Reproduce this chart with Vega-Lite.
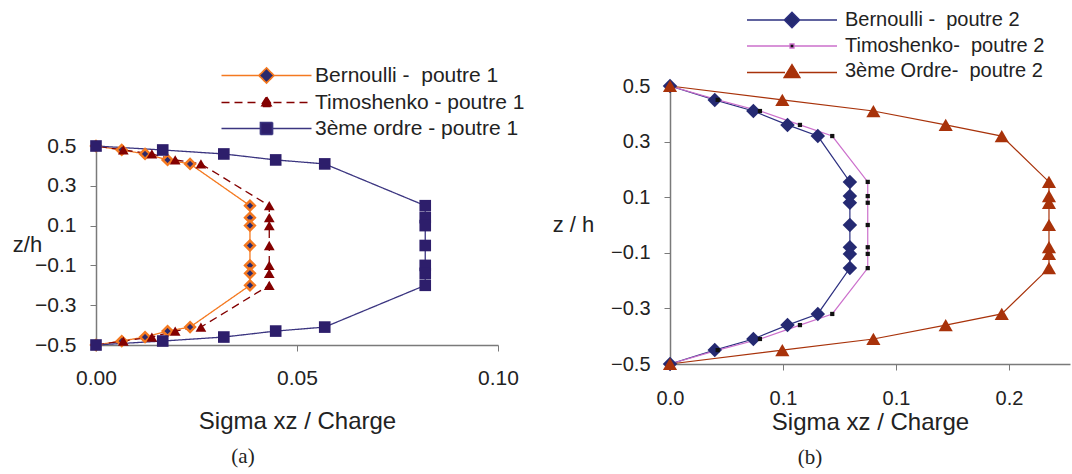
{
  "$schema": "https://vega.github.io/schema/vega-lite/v6.json",
  "background": "white",
  "padding": {"left": 12, "top": 10, "right": 0, "bottom": 0},
  "datasets": {
    "left": [
      {"s": "B1", "z": 0.5, "x": 0}, {"s": "B1", "z": 0.48, "x": 0.0064}, {"s": "B1", "z": 0.46, "x": 0.0122}, {"s": "B1", "z": 0.43, "x": 0.0178}, {"s": "B1", "z": 0.41, "x": 0.0234},
      {"s": "B1", "z": 0.2, "x": 0.0383}, {"s": "B1", "z": 0.14, "x": 0.0383}, {"s": "B1", "z": 0.1, "x": 0.0383}, {"s": "B1", "z": 0, "x": 0.0383}, {"s": "B1", "z": -0.1, "x": 0.0383}, {"s": "B1", "z": -0.14, "x": 0.0383}, {"s": "B1", "z": -0.2, "x": 0.0383},
      {"s": "B1", "z": -0.41, "x": 0.0234}, {"s": "B1", "z": -0.43, "x": 0.0178}, {"s": "B1", "z": -0.46, "x": 0.0122}, {"s": "B1", "z": -0.48, "x": 0.0064}, {"s": "B1", "z": -0.5, "x": 0},
      {"s": "T1", "z": 0.5, "x": 0}, {"s": "T1", "z": 0.48, "x": 0.0068}, {"s": "T1", "z": 0.46, "x": 0.0139}, {"s": "T1", "z": 0.43, "x": 0.0197}, {"s": "T1", "z": 0.41, "x": 0.0261},
      {"s": "T1", "z": 0.2, "x": 0.0431}, {"s": "T1", "z": 0.14, "x": 0.0431}, {"s": "T1", "z": 0.1, "x": 0.0431}, {"s": "T1", "z": 0, "x": 0.0431}, {"s": "T1", "z": -0.1, "x": 0.0431}, {"s": "T1", "z": -0.14, "x": 0.0431}, {"s": "T1", "z": -0.2, "x": 0.0431},
      {"s": "T1", "z": -0.41, "x": 0.0261}, {"s": "T1", "z": -0.43, "x": 0.0197}, {"s": "T1", "z": -0.46, "x": 0.0139}, {"s": "T1", "z": -0.48, "x": 0.0068}, {"s": "T1", "z": -0.5, "x": 0},
      {"s": "O1", "z": 0.5, "x": 0}, {"s": "O1", "z": 0.48, "x": 0.0166}, {"s": "O1", "z": 0.46, "x": 0.0318}, {"s": "O1", "z": 0.43, "x": 0.0447}, {"s": "O1", "z": 0.41, "x": 0.0569},
      {"s": "O1", "z": 0.2, "x": 0.0819}, {"s": "O1", "z": 0.14, "x": 0.0819}, {"s": "O1", "z": 0.1, "x": 0.0819}, {"s": "O1", "z": 0, "x": 0.0819}, {"s": "O1", "z": -0.1, "x": 0.0819}, {"s": "O1", "z": -0.14, "x": 0.0819}, {"s": "O1", "z": -0.2, "x": 0.0819},
      {"s": "O1", "z": -0.41, "x": 0.0569}, {"s": "O1", "z": -0.43, "x": 0.0447}, {"s": "O1", "z": -0.46, "x": 0.0318}, {"s": "O1", "z": -0.48, "x": 0.0166}, {"s": "O1", "z": -0.5, "x": 0}
    ],
    "right": [
      {"s": "B2", "z": 0.5, "x": 0}, {"s": "B2", "z": 0.45, "x": 0.0198}, {"s": "B2", "z": 0.41, "x": 0.0369}, {"s": "B2", "z": 0.36, "x": 0.052}, {"s": "B2", "z": 0.32, "x": 0.0654},
      {"s": "B2", "z": 0.155, "x": 0.0796}, {"s": "B2", "z": 0.104, "x": 0.0796}, {"s": "B2", "z": 0.08, "x": 0.0796}, {"s": "B2", "z": 0, "x": 0.0796}, {"s": "B2", "z": -0.08, "x": 0.0796}, {"s": "B2", "z": -0.104, "x": 0.0796}, {"s": "B2", "z": -0.155, "x": 0.0796},
      {"s": "B2", "z": -0.32, "x": 0.0654}, {"s": "B2", "z": -0.36, "x": 0.052}, {"s": "B2", "z": -0.41, "x": 0.0369}, {"s": "B2", "z": -0.45, "x": 0.0198}, {"s": "B2", "z": -0.5, "x": 0},
      {"s": "T2", "z": 0.5, "x": 0}, {"s": "T2", "z": 0.45, "x": 0.0211}, {"s": "T2", "z": 0.41, "x": 0.0398}, {"s": "T2", "z": 0.36, "x": 0.0575}, {"s": "T2", "z": 0.32, "x": 0.0718},
      {"s": "T2", "z": 0.155, "x": 0.0875}, {"s": "T2", "z": 0.104, "x": 0.0875}, {"s": "T2", "z": 0.08, "x": 0.0875}, {"s": "T2", "z": 0, "x": 0.0875}, {"s": "T2", "z": -0.08, "x": 0.0875}, {"s": "T2", "z": -0.104, "x": 0.0875}, {"s": "T2", "z": -0.155, "x": 0.0875},
      {"s": "T2", "z": -0.32, "x": 0.0718}, {"s": "T2", "z": -0.36, "x": 0.0575}, {"s": "T2", "z": -0.41, "x": 0.0398}, {"s": "T2", "z": -0.45, "x": 0.0211}, {"s": "T2", "z": -0.5, "x": 0},
      {"s": "O2", "z": 0.5, "x": 0}, {"s": "O2", "z": 0.45, "x": 0.0497}, {"s": "O2", "z": 0.41, "x": 0.09}, {"s": "O2", "z": 0.36, "x": 0.122}, {"s": "O2", "z": 0.32, "x": 0.1468},
      {"s": "O2", "z": 0.155, "x": 0.1677}, {"s": "O2", "z": 0.104, "x": 0.1677}, {"s": "O2", "z": 0.08, "x": 0.1677}, {"s": "O2", "z": 0, "x": 0.1677}, {"s": "O2", "z": -0.08, "x": 0.1677}, {"s": "O2", "z": -0.104, "x": 0.1677}, {"s": "O2", "z": -0.155, "x": 0.1677},
      {"s": "O2", "z": -0.32, "x": 0.1468}, {"s": "O2", "z": -0.36, "x": 0.122}, {"s": "O2", "z": -0.41, "x": 0.09}, {"s": "O2", "z": -0.45, "x": 0.0497}, {"s": "O2", "z": -0.5, "x": 0}
    ]
  },
  "hconcat": [
    {
      "width": 402,
      "height": 259,
      "data": {"name": "left"},
      "title": {"text": "(a)", "orient": "bottom", "anchor": "middle", "dx": -54, "offset": 13, "font": "Liberation Serif", "fontSize": 21, "fontWeight": "normal", "color": "#222"},
      "encoding": {
        "x": {"field": "x", "type": "quantitative", "scale": {"domain": [0, 0.1], "nice": false, "zero": false},
          "axis": {"values": [0, 0.05, 0.1], "format": ".2f", "title": "Sigma xz / Charge", "titleY": 76, "titleBaseline": "middle", "labelFontSize": 21, "labelPadding": 16, "titleFontSize": 24}},
        "y": {"field": "z", "type": "quantitative", "scale": {"domain": [-0.5, 0.5], "range": [259, 60], "nice": false, "zero": false},
          "axis": {"values": [-0.5, -0.3, -0.1, 0.1, 0.3, 0.5], "format": ".1f", "title": "z/h", "titleAngle": 0, "titleX": -69, "titleY": 158, "titleAlign": "center", "titleBaseline": "middle", "labelFontSize": 21, "titleFontSize": 22}}
      },
      "layer": [
        {
          "mark": {"type": "point", "filled": true, "opacity": 0, "size": 100},
          "encoding": {
            "shape": {"field": "s", "type": "nominal",
              "scale": {"domain": ["B1", "T1", "O1"], "range": [
                "M-9,0L-1.6,0M1.6,0L9,0M0,-1.5L1.5,0L0,1.5L-1.5,0Z",
                "M-9,0L-1.4,0M1.4,0L9,0M0,-1.1L1.2,0.8L-1.2,0.8Z",
                "M-9,0L-1.2,0M1.2,0L9,0M-1.2,-1.2L1.2,-1.2L1.2,1.2L-1.2,1.2Z"]},
              "legend": {
                "orient": "none", "legendX": 160, "legendY": -21, "title": null, "padding": 0,
                "labelFont": "Liberation Sans", "labelFontSize": 21, "labelColor": "#222", "labelOffset": 38, "labelLimit": 500,
                "symbolSize": 100, "symbolOpacity": 1, "symbolStrokeWidth": 1.7, "rowPadding": 4,
                "labelExpr": "datum.value === 'B1' ? 'Bernoulli -\u00a0 poutre 1' : datum.value === 'T1' ? 'Timoshenko - poutre 1' : '3ème ordre - poutre 1'"
              }}
          }
        },
        {
          "mark": {"type": "line", "strokeWidth": 1.3},
          "encoding": {
            "order": {"field": "z", "type": "quantitative"},
            "stroke": {"field": "s", "type": "nominal", "scale": {"domain": ["B1", "T1", "O1"], "range": ["#f47920", "#830000", "#3b3580"]}, "legend": null},
            "strokeDash": {"field": "s", "type": "nominal", "scale": {"domain": ["B1", "T1", "O1"], "range": [[1, 0], [8, 5], [1, 0]]}, "legend": null}
          }
        },
        {
          "mark": {"type": "point", "filled": true, "opacity": 1, "strokeWidth": 2.5},
          "encoding": {
            "fill": {"field": "s", "type": "nominal", "scale": {"domain": ["B1", "T1", "O1"], "range": ["#2c2a6c", "#830000", "#2d1e6b"]}, "legend": null},
            "shape": {"condition": [{"test": "datum.s === 'T1'", "value": "triangle-up"}, {"test": "datum.s === 'O1'", "value": "square"}], "value": "diamond"},
            "size": {"condition": [{"test": "datum.s === 'T1'", "value": 115}, {"test": "datum.s === 'O1'", "value": 135}], "value": 95},
            "stroke": {"condition": {"test": "datum.s === 'B1'", "value": "#f47920"}, "value": "transparent"}
          }
        }
      ]
    },
    {
      "width": 400,
      "height": 278,
      "data": {"name": "right"},
      "title": {"text": "(b)", "orient": "bottom", "anchor": "middle", "dx": -60, "offset": 13, "font": "Liberation Serif", "fontSize": 21, "fontWeight": "normal", "color": "#222"},
      "encoding": {
        "x": {"field": "x", "type": "quantitative", "scale": {"domain": [0, 0.177], "nice": false, "zero": false},
          "axis": {"values": [0, 0.05, 0.1, 0.15], "labelExpr": "datum.value < 0.01 ? '0.0' : datum.value < 0.125 ? '0.1' : '0.2'", "title": "Sigma xz / Charge", "titleY": 58, "titleBaseline": "middle", "labelFontSize": 20, "labelPadding": 18, "titleFontSize": 24}},
        "y": {"field": "z", "type": "quantitative", "scale": {"domain": [-0.5, 0.5], "nice": false, "zero": false},
          "axis": {"values": [-0.5, -0.3, -0.1, 0.1, 0.3, 0.5], "format": ".1f", "title": "z / h", "titleAngle": 0, "titleX": -97, "titleY": 138, "titleAlign": "center", "titleBaseline": "middle", "labelFontSize": 20, "titleFontSize": 22}}
      },
      "layer": [
        {
          "mark": {"type": "point", "filled": true, "opacity": 0, "size": 100},
          "encoding": {
            "shape": {"field": "s", "type": "nominal",
              "scale": {"domain": ["B2", "T2", "O2"], "range": [
                "M-9,0L-1.6,0M1.6,0L9,0M0,-1.55L1.55,0L0,1.55L-1.55,0Z",
                "M-9,0L-0.4,0M0.4,0L9,0M-0.4,-0.4L0.4,-0.4L0.4,0.4L-0.4,0.4Z",
                "M-9,0.3L-1.4,0.3M1.4,0.3L9,0.3M0,-1.3L1.6,1.3L-1.6,1.3Z"]},
              "legend": {
                "orient": "none", "legendX": 112, "legendY": -76, "title": null, "padding": 0,
                "labelFont": "Liberation Sans", "labelFontSize": 20, "labelColor": "#222", "labelOffset": 43, "labelLimit": 500,
                "symbolSize": 100, "symbolOpacity": 1, "symbolStrokeWidth": 1.3, "rowPadding": 5,
                "labelExpr": "datum.value === 'B2' ? '\u00a0Bernoulli -\u00a0 poutre 2' : datum.value === 'T2' ? 'Timoshenko-\u00a0 poutre 2' : '3ème Ordre-\u00a0 poutre 2'"
              }}
          }
        },
        {
          "mark": {"type": "line", "strokeWidth": 1.2},
          "encoding": {
            "order": {"field": "z", "type": "quantitative"},
            "stroke": {"field": "s", "type": "nominal", "scale": {"domain": ["B2", "T2", "O2"], "range": ["#2d3080", "#cc70cc", "#a8320a"]}, "legend": null}
          }
        },
        {
          "mark": {"type": "point", "filled": true, "opacity": 1, "strokeWidth": 0},
          "encoding": {
            "fill": {"field": "s", "type": "nominal", "scale": {"domain": ["B2", "T2", "O2"], "range": ["#252a72", "#111111", "#a8320a"]}, "legend": null},
            "shape": {"condition": [{"test": "datum.s === 'T2'", "value": "square"}, {"test": "datum.s === 'O2'", "value": "triangle-up"}], "value": "diamond"},
            "size": {"condition": [{"test": "datum.s === 'T2'", "value": 18}, {"test": "datum.s === 'O2'", "value": 200}], "value": 210}
          }
        }
      ]
    }
  ],
  "spacing": 172,
  "bounds": "flush",
  "resolve": {"scale": {"x": "independent", "y": "independent", "stroke": "independent", "fill": "independent", "shape": "independent", "strokeDash": "independent"}, "legend": {"shape": "independent"}},
  "config": {
    "view": {"stroke": null},
    "font": "Liberation Sans",
    "axis": {"grid": false, "domainColor": "#7a7a7a", "domainWidth": 1.5, "tickColor": "#7a7a7a", "tickSize": 6, "tickWidth": 1, "labelColor": "#222", "titleColor": "#222", "labelFont": "Liberation Sans", "titleFont": "Liberation Sans", "titleFontWeight": "normal", "labelPadding": 14, "labelFlush": false, "labelOverlap": false}
  }
}
